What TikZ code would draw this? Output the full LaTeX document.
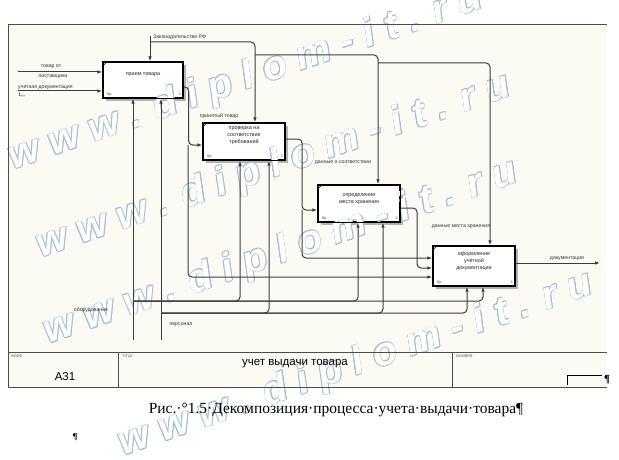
\documentclass[tikz,border=0pt]{standalone}
\usepackage{fontspec}
\setmainfont{Liberation Serif}
\newfontfamily\arialfont{Liberation Sans}
\usetikzlibrary{arrows.meta,shadows}
\definecolor{paper}{RGB}{252,251,243}
\definecolor{wire}{RGB}{60,60,60}
\definecolor{wmark}{RGB}{160,190,208}
\newcommand\wmtext{w w w . d i p l o m - i t . r u}
\newcommand\wmrow[1]{%
  \foreach \a in {0,45,...,315}
    \node[wm,text=wmark,shift={(\a:0.65pt)}] at #1 {\wmtext};
  \node[wm,text=white] at #1 {\wmtext};
}
\tikzset{
  func/.style={draw=black,line width=1.3pt,fill=white,
    drop shadow={shadow xshift=3pt,shadow yshift=-3pt,fill=black!30,opacity=1}},
  ftext/.style={font=\arialfont\fontsize{5.4}{6.8}\selectfont,align=center,text=black!85,inner sep=0pt},
  lbl/.style={font=\arialfont\fontsize{5.2}{5.5}\selectfont,text=black!80,inner sep=0pt},
  tinytext/.style={font=\arialfont\fontsize{3.8}{4}\selectfont,text=black!70,inner sep=0pt},
  wire/.style={draw=wire,line width=1pt,rounded corners=4pt},
  arr/.style={wire,-{Latex[length=5pt,width=3.6pt]}},
  wm/.style={font=\arialfont\bfseries\itshape\fontsize{40}{40}\selectfont,
    rotate=19,anchor=west,inner sep=0pt}
}
\begin{document}
\begin{tikzpicture}[x=1pt,y=-1pt]
\useasboundingbox (0,0) rectangle (619,460);
\fill[white] (0,0) rectangle (619,460);
\fill[paper] (8,24) rectangle (606,387);

% activity boxes
\node[func,minimum width=80pt,minimum height=36pt] (b1) at (143,80) {};
\node[func,minimum width=82pt,minimum height=37pt] (b2) at (244,141.5) {};
\node[func,minimum width=82pt,minimum height=37pt] (b3) at (359,203.5) {};
\node[func,minimum width=82pt,minimum height=40pt] (b4) at (474,266) {};

% watermark (hollow letters, under the lines and texts)
\wmrow{(10,160)}
\wmrow{(38,248)}
\wmrow{(45,334)}
\wmrow{(120,446)}

\draw[line width=0.8pt,black!70] (8,387) -- (8,24) -- (607,24);
\foreach \b in {b1,b2,b3,b4}
  \draw[line width=1.3pt] (\b.south west) rectangle (\b.north east);
\node[ftext] (t1) at ([yshift=5pt]b1.center) {прием товара};
\node[ftext] (t2) at ([yshift=6pt]b2.center) {проверка на\\соответствие\\требований};
\node[ftext] (t3) at ([yshift=4pt]b3.center) {определение\\места хранения};
\node[ftext] (t4) at ([yshift=5pt]b4.center) {оформление\\учетной\\документации};
\foreach \b/\n in {b1/1,b2/2,b3/3,b4/4}{
  \draw[line width=0.6pt] ([yshift=-5pt]\b.north west) -- ([xshift=5pt]\b.north west);
  \node[tinytext] (\b p) at ([xshift=7pt,yshift=4pt]\b.south west) {0р};
  \node[tinytext] (\b n) at ([xshift=-4pt,yshift=4pt]\b.south east) {\n};
}

% control
\coordinate (zak) at (150,36);
\coordinate (c1) at (150,42);
\coordinate (c2) at (255,55);
\coordinate (c3) at (378,63);
\draw[arr] (zak) -- (zak |- b1.north);
\draw[arr] (c1) -| ([xshift=11pt]b2.north);
\draw[arr] (c2) -| ([xshift=19pt]b3.north);
\draw[arr] (c3) -| ([xshift=16pt]b4.north);

% inputs
\coordinate (in1) at (18,72);
\coordinate (in2) at (18,91);
\draw[arr] (in1) -- (in1 -| b1.west);
\draw[arr] (in2) -- (in2 -| b1.west);
\draw[wire,line width=0.5pt,rounded corners=1pt] (20,92) -- (19,96) -- (25,96);

% outputs
\coordinate (o1) at (188,145);
\coordinate (o2) at (302,210);
\coordinate (o3) at (417,268);
\draw[arr] ([yshift=-7pt]b1.east) -- ++(5,0) |- ([yshift=-3.5pt]b2.west);
\draw[arr] (o1) |- ([yshift=-11pt]b4.west);
\draw[arr] ([yshift=2.5pt]b2.east) -| (o2) -- ([yshift=-6.5pt]b3.west);
\draw[arr] (o2) |- ([yshift=8pt]b4.west);
\draw[arr] ([yshift=-4.5pt]b3.east) -| (o3) -- ([yshift=-2pt]b4.west);
\coordinate (out4) at (600,263);
\draw[arr] (b4.east |- out4) -- (out4);

% mechanisms
\coordinate (m1) at (133,340);
\coordinate (m2) at (161,340);
\coordinate (mh1) at (133,301);
\coordinate (mh2) at (161,313);
\draw[arr] (m1) -- (m1 |- b1.south);
\draw[arr] (m2) -- (m2 |- b1.south);
\draw[arr] (mh1) -| ([xshift=-4pt]b2.south);
\draw[arr] (mh1) -| ([xshift=-1pt]b3.south);
\draw[arr] (mh1) -| ([xshift=9pt]b4.south);
\draw[arr] (mh2) -| ([xshift=25pt]b2.south);
\draw[arr] (mh2) -| ([xshift=24pt]b3.south);
\draw[arr] (mh2) -| ([xshift=-7pt]b4.south);

% arrow labels
\node[lbl,anchor=west] (lzak) at (153,37) {Законодательство РФ};
\node[lbl] (ltov1) at (51,67) {товар от};
\node[lbl] (ltov2) at (53,77) {поставщика};
\node[lbl,anchor=west] (luch) at (18,88) {учетная документация};
\node[lbl] (lprin) at (219,116) {принятый товар};
\node[lbl] (lsoot) at (343,163) {данные о соответствии};
\node[lbl] (lmest) at (461,227) {данные места хранения};
\node[lbl] (ldoc) at (567,259) {документация};
\node[lbl] (lobor) at (91,310) {оборудование};
\node[lbl] (lpers) at (181,325) {персонал};

% title block
\draw[line width=1pt,black!70] (8,352) -- (607,352) (8,387) -- (607,387)
  (118,352) -- (118,387) (452,352) -- (452,387);
\node[tinytext,anchor=north west] (lnode) at (11,355) {NODE};
\node[tinytext,anchor=north west] (ltitle) at (122,355) {TITLE};
\node[tinytext,anchor=north west] (lnum) at (456,355) {NUMBER};
\node[font=\arialfont\fontsize{11.5}{12}\selectfont] (nodeid) at (65,377) {A31};
\node[font=\arialfont\fontsize{11.5}{12}\selectfont] (title) at (295,364) {учет выдачи товара};
\draw[line width=0.8pt] (567,385) -- (567,375) -- (602,375);
\node[font=\fontsize{11}{11}\selectfont\bfseries] (pil1) at (607,380) {¶};

% caption
\node[font=\fontsize{15.5}{17}\selectfont] (cap) at (336,410) {Рис.·°1.5·Декомпозиция·процесса·учета·выдачи·товара¶};
\node[font=\fontsize{9}{9}\selectfont\bfseries] (pil2) at (75,437) {¶};
\end{tikzpicture}
\end{document}
